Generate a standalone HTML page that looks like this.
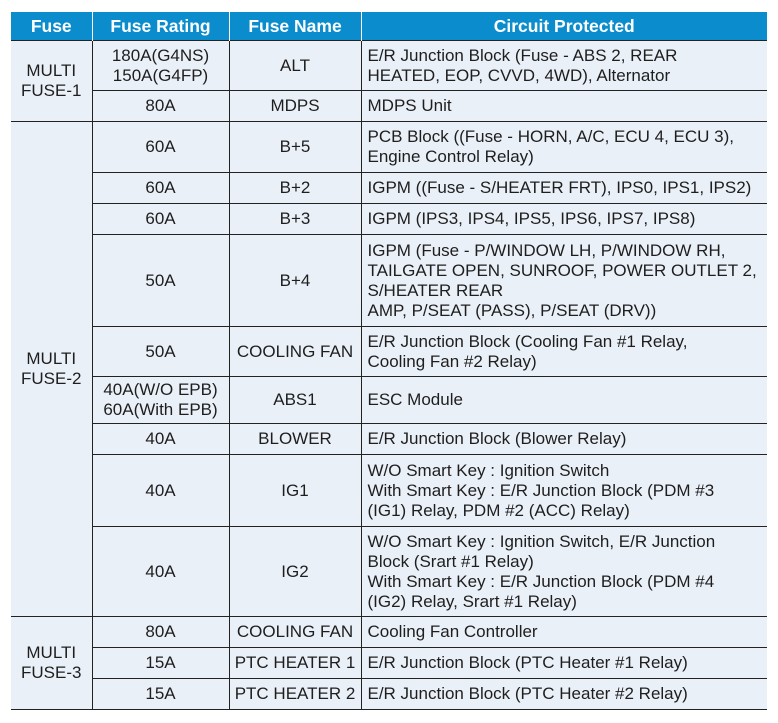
<!DOCTYPE html><html><head><style>
body{margin:0;background:#fff;width:778px;height:723px;overflow:hidden;font-family:"Liberation Sans",sans-serif;}
table{position:absolute;left:11px;top:12px;border-collapse:collapse;table-layout:fixed;width:756px;font-size:17px;color:#1e1e1e;}
td{border:1.5px solid #222;background:#eaf0f8;text-align:center;padding:0;line-height:20px;}
td.c{text-align:left;padding-left:6px;}
th{background:#0b8dcd;color:#fff;font-weight:bold;font-size:17.5px;border-left:1.5px solid #fff;height:28px;padding:0;}
th:first-child{border-left:none}
td:first-child{border-left:none}
td:last-child,th:last-child{border-right:none}
</style></head><body>
<table>
<colgroup><col style="width:81px"><col style="width:137px"><col style="width:132px"><col style="width:406px"></colgroup>
<tr><th>Fuse</th><th>Fuse Rating</th><th>Fuse Name</th><th>Circuit Protected</th></tr>
<tr style="height:50px"><td rowspan="2">MULTI<br>FUSE-1</td><td>180A(G4NS)<br>150A(G4FP)</td><td>ALT</td><td class="c">E/R Junction Block (Fuse - ABS 2, REAR<br>HEATED, EOP, CVVD, 4WD), Alternator</td></tr>
<tr style="height:31px"><td>80A</td><td>MDPS</td><td class="c">MDPS Unit</td></tr>
<tr style="height:51px"><td rowspan="9">MULTI<br>FUSE-2</td><td>60A</td><td>B+5</td><td class="c">PCB Block ((Fuse - HORN, A/C, ECU 4, ECU 3),<br>Engine Control Relay)</td></tr>
<tr style="height:31px"><td>60A</td><td>B+2</td><td class="c">IGPM ((Fuse - S/HEATER FRT), IPS0, IPS1, IPS2)</td></tr>
<tr style="height:31px"><td>60A</td><td>B+3</td><td class="c">IGPM (IPS3, IPS4, IPS5, IPS6, IPS7, IPS8)</td></tr>
<tr style="height:92px"><td>50A</td><td>B+4</td><td class="c">IGPM (Fuse - P/WINDOW LH, P/WINDOW RH,<br>TAILGATE OPEN, SUNROOF, POWER OUTLET 2,<br>S/HEATER REAR<br>AMP, P/SEAT (PASS), P/SEAT (DRV))</td></tr>
<tr style="height:50px"><td>50A</td><td>COOLING FAN</td><td class="c">E/R Junction Block (Cooling Fan #1 Relay,<br>Cooling Fan #2 Relay)</td></tr>
<tr style="height:47px"><td>40A(W/O EPB)<br>60A(With EPB)</td><td>ABS1</td><td class="c">ESC Module</td></tr>
<tr style="height:31px"><td>40A</td><td>BLOWER</td><td class="c">E/R Junction Block (Blower Relay)</td></tr>
<tr style="height:72px"><td>40A</td><td>IG1</td><td class="c">W/O Smart Key : Ignition Switch<br>With Smart Key : E/R Junction Block (PDM #3<br>(IG1) Relay, PDM #2 (ACC) Relay)</td></tr>
<tr style="height:90px"><td>40A</td><td>IG2</td><td class="c">W/O Smart Key : Ignition Switch, E/R Junction<br>Block (Srart #1 Relay)<br>With Smart Key : E/R Junction Block (PDM #4<br>(IG2) Relay, Srart #1 Relay)</td></tr>
<tr style="height:31px"><td rowspan="3">MULTI<br>FUSE-3</td><td>80A</td><td>COOLING FAN</td><td class="c">Cooling Fan Controller</td></tr>
<tr style="height:31px"><td>15A</td><td>PTC HEATER 1</td><td class="c">E/R Junction Block (PTC Heater #1 Relay)</td></tr>
<tr style="height:31px"><td>15A</td><td>PTC HEATER 2</td><td class="c">E/R Junction Block (PTC Heater #2 Relay)</td></tr>
</table>
</body></html>
